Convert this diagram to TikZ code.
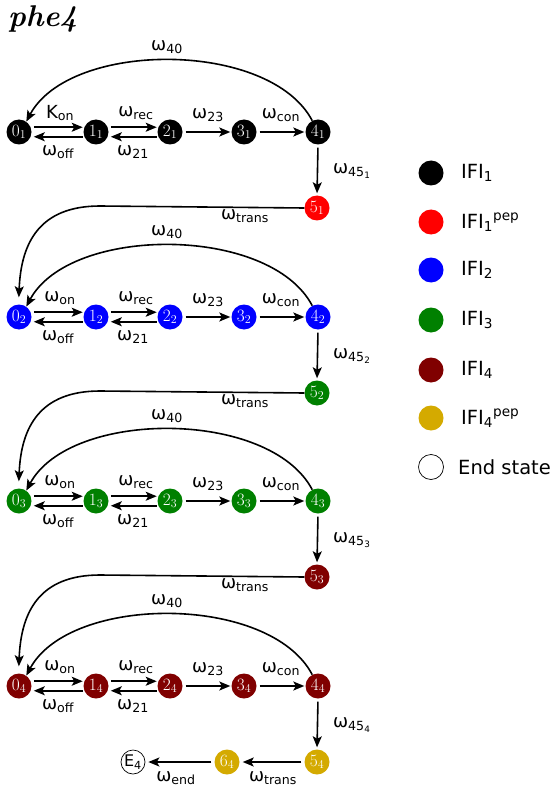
\documentclass[tikz,border=0pt]{standalone}
\usepackage{fontspec}
\usetikzlibrary{arrows.meta,calc}
\newfontfamily\lab{DejaVu Sans}
\definecolor{cRed}{RGB}{255,0,0}
\definecolor{cBlue}{RGB}{0,0,255}
\definecolor{cGreen}{RGB}{0,128,0}
\definecolor{cMaroon}{RGB}{128,0,0}
\definecolor{cGold}{RGB}{212,170,0}
\begin{document}
\begin{tikzpicture}[x=1pt,y=-1pt,
  st/.style={circle,fill=#1,minimum size=25pt,inner sep=0pt,text=white,font=\fontsize{18}{18}\selectfont},
  endst/.style={circle,draw=black,line width=0.7pt,fill=white,minimum size=24pt,inner sep=0pt,font=\lab\fontsize{16}{16}\selectfont},
  arr/.style={line width=1.6pt,-{Stealth[length=11pt,width=9pt,inset=2.5pt]}},
  lbl/.style={font=\lab\fontsize{18}{18}\selectfont,inner sep=0pt},
  leg/.style={font=\lab\fontsize{19.5}{19.5}\selectfont,inner sep=0pt,anchor=west},
]
\useasboundingbox (0,0) rectangle (551,794);
\node[anchor=base west,inner sep=0pt,font=\fontsize{30}{30}\selectfont\bfseries\itshape] (title) at (8,27) {phe4};
% rows
\foreach \r/\y/\c/\cn/\first in {1/132/black/cRed/K,2/317/cBlue/cGreen/ω,3/501/cGreen/cMaroon/ω,4/686/cMaroon/cGold/ω}{
  \node[st=\c] (n\r0) at (19,\y) {$0_{\r}$};
  \node[st=\c] (n\r1) at (96,\y) {$1_{\r}$};
  \node[st=\c] (n\r2) at (170,\y) {$2_{\r}$};
  \node[st=\c] (n\r3) at (244,\y) {$3_{\r}$};
  \node[st=\c] (n\r4) at (318,\y) {$4_{\r}$};
  \node[st=\cn] (n\r5) at (317,\y+76) {$5_{\r}$};
  \draw[arr,shorten <=3pt,shorten >=1.5pt] (n\r0.22) -- (n\r1.158);
  \draw[arr,shorten <=1.5pt,shorten >=3pt] (n\r1.-158) -- (n\r0.-22);
  \draw[arr,shorten <=3pt,shorten >=1.5pt] (n\r1.22) -- (n\r2.158);
  \draw[arr,shorten <=1.5pt,shorten >=3pt] (n\r2.-158) -- (n\r1.-22);
  \draw[arr,shorten <=3pt,shorten >=1pt] (n\r2.east) -- (n\r3.west);
  \draw[arr,shorten <=3pt,shorten >=1pt] (n\r3.east) -- (n\r4.west);
  \draw[arr,shorten <=3pt,shorten >=2pt] (n\r4.south) -- (n\r5.north);
  \draw[arr] (n\r4.117) .. controls (270,\y-92) and (70,\y-92) .. (n\r0.55);
  \node[lbl] (lon\r) at (60,\y-19) {\first\textsubscript{on}};
  \node[lbl] (lrec\r) at (136,\y-19) {ω\textsubscript{rec}};
  \node[lbl] (loff\r) at (58,\y+20) {ω\textsubscript{off}};
  \node[lbl] (l21\r) at (133,\y+20) {ω\textsubscript{21}};
  \node[lbl] (l23\r) at (208,\y-17) {ω\textsubscript{23}};
  \node[lbl] (lcon\r) at (281,\y-17) {ω\textsubscript{con}};
  \node[lbl] (l45\r) at (352,\y+39) {ω\textsubscript{45\textsubscript{\r}}};
  \node[lbl] (l40\r) at (167,\y-85) {ω\textsubscript{40}};
}
% transitions between rows
\foreach \r/\y in {1/132,2/317,3/501}{
  \pgfmathtruncatemacro\nx{\r+1}
  \draw[arr,shorten >=7pt] (n\r5.west) -- (100,\y+74) .. controls (40,\y+74) and (21,\y+110) .. (n\nx0.92);
  \node[lbl] (ltr\r) at (245,\y+84) {ω\textsubscript{trans}};
}
% final row
\node[st=cGold] (n46) at (227,762) {$6_{4}$};
\node[endst] (nE) at (133,762) {E\textsubscript{4}};
\draw[arr,shorten <=3pt,shorten >=3pt] (n45.west) -- (n46.east);
\draw[arr,shorten <=3pt,shorten >=3pt] (n46.west) -- (nE.east);
\node[lbl] (ltr4) at (273,778) {ω\textsubscript{trans}};
\node[lbl] (lend) at (176,778) {ω\textsubscript{end}};
% legend
\foreach \i/\y/\c/\t in {1/173/black/{IFI\textsubscript{1}},2/222/cRed/{IFI\textsubscript{1}\textsuperscript{pep}},3/270/cBlue/{IFI\textsubscript{2}},4/320/cGreen/{IFI\textsubscript{3}},5/370/cMaroon/{IFI\textsubscript{4}},6/418/cGold/{IFI\textsubscript{4}\textsuperscript{pep}}}{
  \node[circle,fill=\c,minimum size=25pt,inner sep=0pt] (lg\i) at (431,\y) {};
  \node[leg] (lt\i) at (461,\y) {\t};
}
\node[circle,draw=black,line width=0.7pt,minimum size=25pt,inner sep=0pt] (lg7) at (431,467) {};
\node[leg] (lt7) at (458,467) {End state};
\end{tikzpicture}
\end{document}
